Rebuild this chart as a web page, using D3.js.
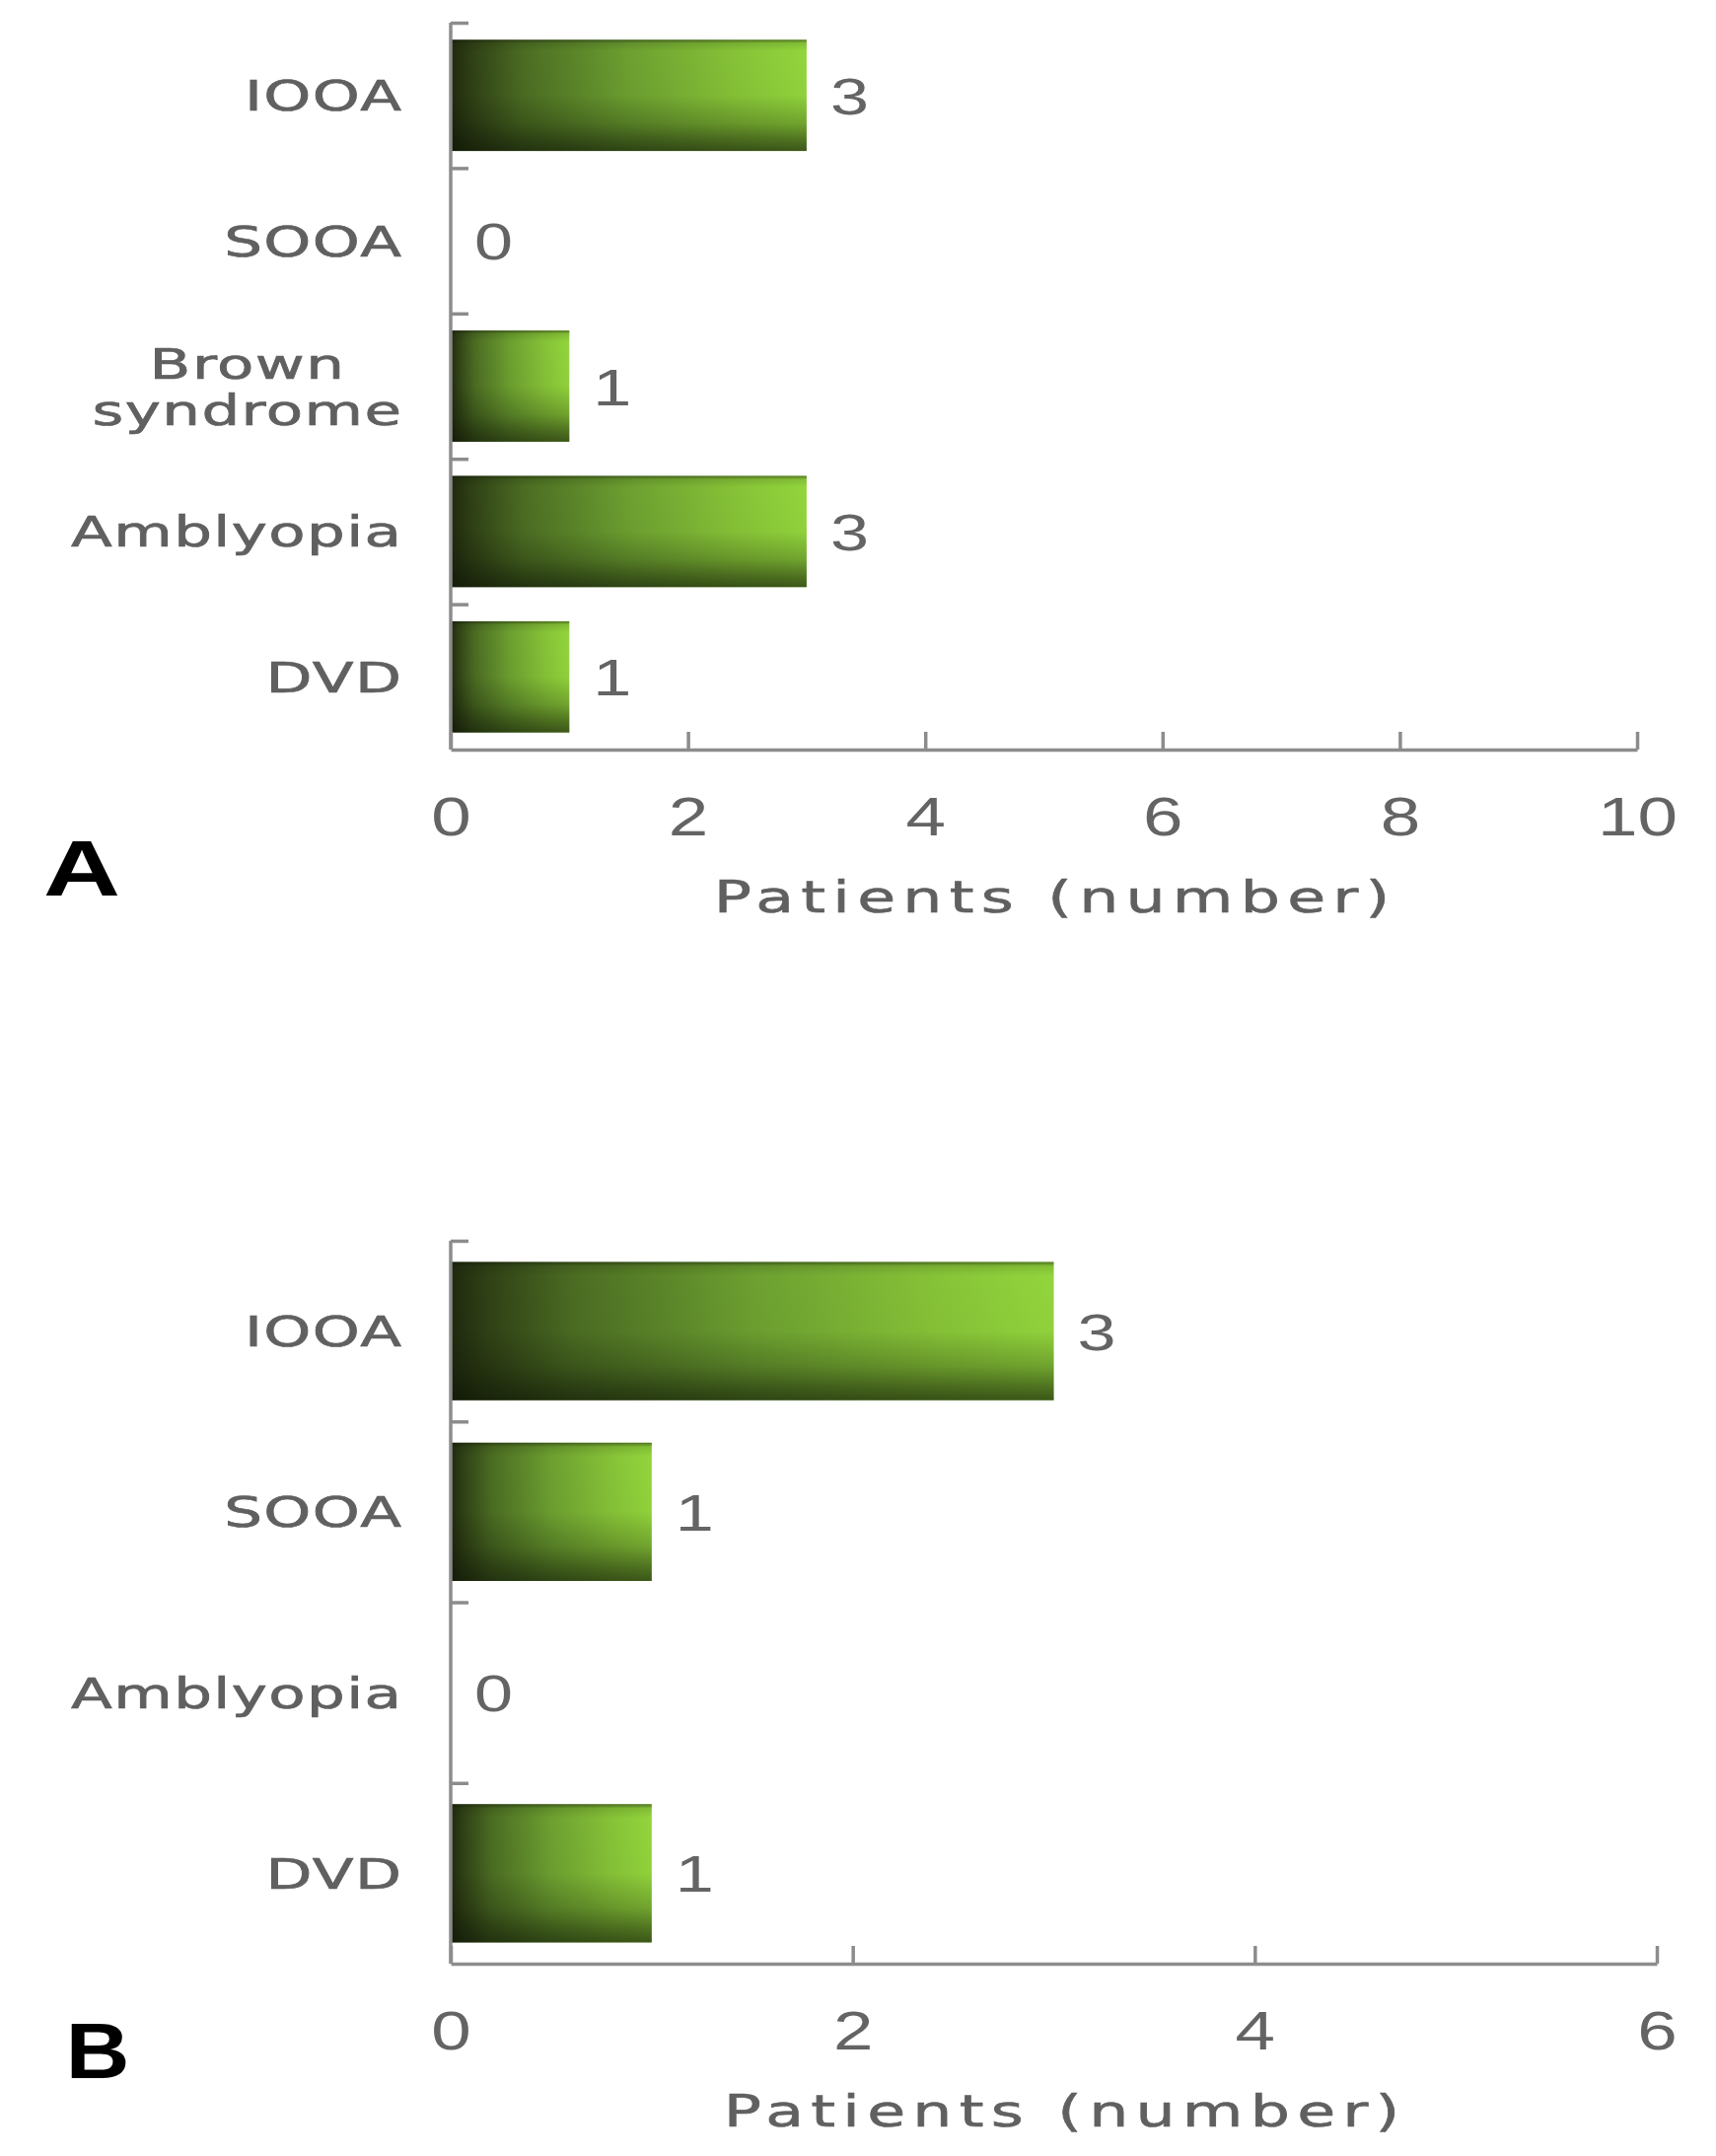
<!DOCTYPE html>
<html>
<head>
<meta charset="utf-8">
<script src="https://cdn.jsdelivr.net/npm/d3@7"></script>
<style>
  html, body { margin: 0; padding: 0; background: #ffffff; }
  svg { display: block; }
</style>
</head>
<body>
<script>
// ---------- data ----------
const categoriesA = ["IOOA", "SOOA", "Brown syndrome", "Amblyopia", "DVD"];
const valuesA = [3, 0, 1, 3, 1];
const ticksA = [0, 2, 4, 6, 8, 10];

const categoriesB = ["IOOA", "SOOA", "Amblyopia", "DVD"];
const valuesB = [3, 1, 0, 1];
const ticksB = [0, 2, 4, 6];

const axisTitle = "Patients (number)";
const panelLetters = ["A", "B"];

// ---------- layout ----------
const W = 1740, H = 2186;
const FONT = "'Liberation Sans', Arial, Helvetica, sans-serif";
const FONT_WIDE = "'DejaVu Sans', Verdana, sans-serif";

const panels = [
  { cats: categoriesA, vals: valuesA, ticks: ticksA, letter: panelLetters[0],
    x0: 457, x1: 1660, y0: 23, y1: 760, lx: 83, ly: 908, lsx: 1.35 },
  { cats: categoriesB, vals: valuesB, ticks: ticksB, letter: panelLetters[1],
    x0: 457, x1: 1680, y0: 1258, y1: 1991, lx: 99, ly: 2107, lsx: 1.12 }
];

const svg = d3.select("body").append("svg")
  .attr("width", W).attr("height", H)
  .attr("viewBox", `0 0 ${W} ${H}`);

svg.append("rect").attr("width", W).attr("height", H).attr("fill", "#fff");

const defs = svg.append("defs");
const gH = defs.append("linearGradient").attr("id", "barH")
  .attr("x1", 0).attr("y1", 0).attr("x2", 1).attr("y2", 0);
[[0, "#1f290e"], [0.06, "#2f4015"], [0.2, "#4a6b22"], [0.5, "#6c9f30"], [0.8, "#86c237"], [1, "#92d53c"]]
  .forEach(([o, c]) => gH.append("stop").attr("offset", o).attr("stop-color", c));
const gV = defs.append("linearGradient").attr("id", "barV")
  .attr("x1", 0).attr("y1", 0).attr("x2", 0).attr("y2", 1);
[[0, 0.5], [0.03, 0.12], [0.1, 0], [0.5, 0.02], [0.75, 0.25], [0.9, 0.5], [1, 0.65]]
  .forEach(([o, a]) => gV.append("stop").attr("offset", o).attr("stop-color", "#0d1305").attr("stop-opacity", a));

const AXIS_COLOR = "#8c8c8c";
const LABEL_COLOR = "#606060";
const DIGIT_COLOR = "#646464";

function scaledText(parent, x, y, txt, opt) {
  const g = parent.append("g").attr("transform", `translate(${x},${y}) scale(${opt.sx},1)`);
  const ls = opt.ls || 0;
  let dx = 0;
  if (opt.anchor === "end") dx = ls;
  else if (opt.anchor === "middle") dx = ls / 2;
  const t = g.append("text")
    .attr("x", dx).attr("y", 0)
    .attr("text-anchor", opt.anchor || "start")
    .attr("font-family", opt.family || FONT)
    .attr("font-size", opt.size)
    .attr("font-weight", opt.weight || "normal")
    .attr("letter-spacing", ls)
    .attr("fill", opt.fill)
    .text(txt);
  if (opt.stroke) t.attr("stroke", opt.fill).attr("stroke-width", opt.stroke);
  return { g, t };
}

panels.forEach(p => {
  const x = d3.scaleLinear().domain([p.ticks[0], p.ticks[p.ticks.length - 1]]).range([p.x0, p.x1]);
  const y = d3.scaleBand().domain(p.cats).range([p.y0, p.y1])
    .paddingInner(0.235).paddingOuter(0.1175);
  const yEdge = d3.scaleLinear().domain([0, p.cats.length]).range([p.y0, p.y1]);

  const g = svg.append("g");

  // bars
  const data = p.cats.map((c, i) => ({ c, v: p.vals[i] }));
  const bars = g.append("g").selectAll("g").data(data.filter(d => d.v > 0)).join("g");
  bars.append("rect")
    .attr("x", x(0)).attr("y", d => y(d.c))
    .attr("width", d => x(d.v) - x(0)).attr("height", y.bandwidth())
    .attr("fill", "url(#barH)");
  bars.append("rect")
    .attr("x", x(0)).attr("y", d => y(d.c))
    .attr("width", d => x(d.v) - x(0)).attr("height", y.bandwidth())
    .attr("fill", "url(#barV)");

  // y axis (band boundary ticks)
  const yAxis = g.append("g").attr("transform", `translate(${p.x0},0)`)
    .call(d3.axisRight(yEdge).tickValues(d3.range(p.cats.length)).tickSize(18).tickFormat(""));
  yAxis.select(".domain").remove();
  yAxis.selectAll(".tick line").attr("stroke", AXIS_COLOR).attr("stroke-width", 3.5);

  // x axis
  const xAxis = g.append("g").attr("transform", `translate(0,${p.y1})`)
    .call(d3.axisBottom(x).tickValues(p.ticks).tickFormat(d3.format("d"))
      .tickSizeInner(-18).tickSizeOuter(0).tickPadding(47));
  xAxis.select(".domain").attr("stroke", AXIS_COLOR).attr("stroke-width", 3.5);
  xAxis.selectAll(".tick line").attr("stroke", AXIS_COLOR).attr("stroke-width", 3.5);
  xAxis.selectAll(".tick text")
    .attr("font-family", FONT).attr("font-size", 56).attr("fill", DIGIT_COLOR)
    .attr("transform", "scale(1.3,1)");

  // vertical axis line
  g.append("line")
    .attr("x1", p.x0).attr("x2", p.x0)
    .attr("y1", p.y0).attr("y2", p.y1)
    .attr("stroke", AXIS_COLOR).attr("stroke-width", 3.5);

  // category labels
  const labelRight = p.x0 - 50;
  const LS = 1, SX = 1.42, FS = 43, CAP = 31, LH = 47;
  const lab = { sx: SX, size: FS, ls: LS, fill: LABEL_COLOR, family: FONT_WIDE, stroke: 0.7 };
  data.forEach(d => {
    const lines = d.c.length > 10 ? d.c.split(" ") : [d.c];
    const cy = y(d.c) + y.bandwidth() / 2;
    const n = lines.length;
    if (n === 1) {
      scaledText(g, labelRight, cy + CAP / 2, d.c, { ...lab, anchor: "end" });
    } else {
      const items = lines.map((ln, i) => {
        const by = cy + CAP / 2 + (i - (n - 1) / 2) * LH;
        return scaledText(g, 0, by, ln, { ...lab, anchor: "middle" });
      });
      const maxW = d3.max(items, it => (it.t.node().getComputedTextLength() - LS) * SX);
      const cx = labelRight - maxW / 2;
      items.forEach((it, i) => {
        const by = cy + CAP / 2 + (i - (n - 1) / 2) * LH;
        it.g.attr("transform", `translate(${cx},${by}) scale(${SX},1)`);
      });
    }
  });

  // value labels
  data.forEach(d => {
    const cy = y(d.c) + y.bandwidth() / 2;
    scaledText(g, x(d.v) + 24, cy + 19, String(d.v), { sx: 1.35, size: 52, anchor: "start", fill: DIGIT_COLOR });
  });

  // axis title
  scaledText(g, (p.x0 + p.x1) / 2 + 8, p.y1 + 165, axisTitle,
    { sx: 1.44, size: 44, ls: 5, anchor: "middle", fill: LABEL_COLOR, family: FONT_WIDE, stroke: 0.6 });

  // panel letter
  scaledText(g, p.lx, p.ly, p.letter, { sx: p.lsx, size: 80, weight: "bold", anchor: "middle", fill: "#000" });
});
</script>
</body>
</html>
